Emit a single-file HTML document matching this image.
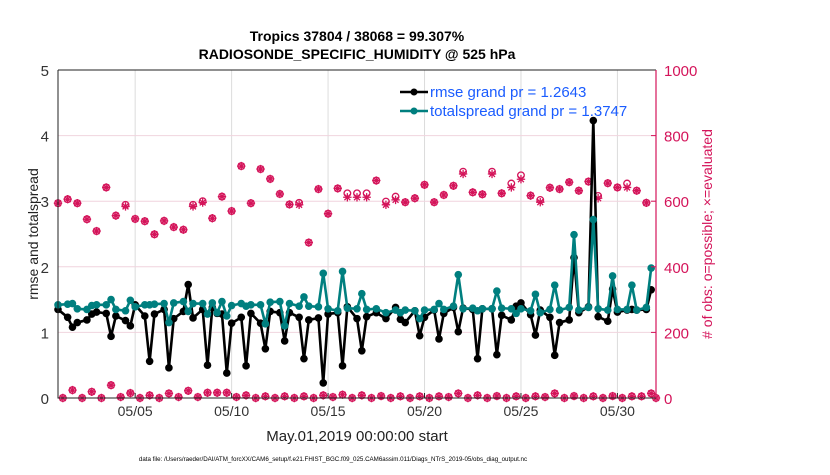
<!DOCTYPE html>
<html><head><meta charset="utf-8"><style>
body{margin:0;background:#fff;width:830px;height:470px;overflow:hidden;font-family:"Liberation Sans",sans-serif}
</style></head><body>
<svg id="chart" width="830" height="470" xmlns="http://www.w3.org/2000/svg" font-family="Liberation Sans, sans-serif">
<text x="357" y="41" text-anchor="middle" font-size="14" font-weight="bold">Tropics 37804 / 38068 = 99.307%</text>
<text x="357" y="59" text-anchor="middle" font-size="14" font-weight="bold">RADIOSONDE_SPECIFIC_HUMIDITY @ 525 hPa</text>
<g id="grid"></g>
<g id="marks"></g>
<g id="axes"></g>
<text transform="translate(38,234) rotate(-90)" text-anchor="middle" font-size="14" fill="#222">rmse and totalspread</text>
<text transform="translate(712,234) rotate(-90)" text-anchor="middle" font-size="14" fill="#d4145a"># of obs: o=possible; ×=evaluated</text>
<text x="357" y="441" text-anchor="middle" font-size="15" fill="#222">May.01,2019 00:00:00 start</text>
<text x="333" y="461" text-anchor="middle" font-size="6.2" fill="#000">data file: /Users/raeder/DAI/ATM_forcXX/CAM6_setup/f.e21.FHIST_BGC.f09_025.CAM6assim.011/Diags_NTrS_2019-05/obs_diag_output.nc</text>
<g>
<line x1="400" y1="92" x2="428" y2="92" stroke="#000" stroke-width="2.5"/>
<circle cx="414" cy="92" r="3.5" fill="#000"/>
<text x="430" y="97" font-size="15" fill="#1a5cff">rmse grand pr = 1.2643</text>
<line x1="400" y1="111" x2="428" y2="111" stroke="#007f7f" stroke-width="2.5"/>
<circle cx="414" cy="111" r="3.5" fill="#007f7f"/>
<text x="430" y="116" font-size="15" fill="#1a5cff">totalspread grand pr = 1.3747</text>
</g>
</svg>
<script>
const lineTimes=[0,0.5,0.75,1,1.5,1.75,2,2.5,2.75,3,3.5,3.75,4,4.5,4.75,5,5.5,5.75,6,6.5,6.75,7,7.5,7.75,8,8.25,8.5,8.75,9,9.5,9.75,10,10.5,10.75,11,11.5,11.75,12,12.5,12.75,13,13.5,13.75,14,14.5,14.75,15,15.5,15.75,16,16.5,17,17.5,17.75,18,18.5,18.75,19,19.5,19.75,20,20.5,20.75,21,21.5,21.75,22,22.5,22.75,23,23.5,23.75,24,24.5,24.75,25,25.5,25.75,26,26.5,26.75,27,27.5,27.75,28,28.5,28.75,29,29.5,29.75,30,30.5,30.75];
const rmse=[1.35,1.23,1.08,1.15,1.19,1.28,1.31,1.29,0.94,1.25,1.18,1.10,1.42,1.25,0.56,1.28,1.35,0.46,1.21,1.32,1.73,1.22,1.35,0.50,1.38,1.29,1.28,0.38,1.14,1.23,0.49,1.29,1.14,0.75,1.32,1.30,0.87,1.30,1.23,0.60,1.19,1.22,0.23,1.28,1.30,0.49,1.39,1.21,0.72,1.24,1.30,1.21,1.38,1.20,1.15,1.33,0.95,1.23,1.34,0.90,1.29,1.38,1.01,1.37,1.35,0.60,1.36,1.36,0.66,1.26,1.19,1.40,1.45,1.27,0.96,1.34,1.23,0.65,1.15,1.19,2.14,1.30,1.39,4.23,1.24,1.17,1.66,1.31,1.34,1.35,1.34,1.35,1.65];
const spread=[1.42,1.43,1.44,1.36,1.35,1.41,1.42,1.42,1.50,1.35,1.33,1.49,1.39,1.42,1.42,1.43,1.44,1.15,1.45,1.47,1.32,1.44,1.44,1.28,1.45,1.30,1.47,1.25,1.41,1.44,1.40,1.42,1.42,1.13,1.46,1.47,1.10,1.44,1.40,1.54,1.40,1.39,1.90,1.36,1.33,1.93,1.37,1.36,1.59,1.35,1.36,1.30,1.34,1.30,1.34,1.33,1.21,1.34,1.35,1.44,1.35,1.40,1.88,1.36,1.37,1.33,1.36,1.36,1.63,1.37,1.36,1.29,1.36,1.33,1.58,1.30,1.35,1.72,1.34,1.38,2.49,1.34,1.38,2.72,1.36,1.34,1.86,1.35,1.35,1.72,1.34,1.38,1.98];
const topTimes=[0,0.5,1,1.5,2,2.5,3,3.5,4,4.5,5,5.5,6,6.5,7,7.5,8,8.5,9,9.5,10,10.5,11,11.5,12,12.5,13,13.5,14,14.5,15,15.5,16,16.5,17,17.5,18,18.5,19,19.5,20,20.5,21,21.5,22,22.5,23,23.5,24,24.5,25,25.5,26,26.5,27,27.5,28,28.5,29,29.5,30,30.5];
const possibleTop=[594,606,594,545,509,642,556,589,546,539,499,540,521,513,589,600,548,614,570,707,594,698,668,622,590,595,474,637,562,639,624,624,624,663,599,614,597,609,650,597,619,647,690,627,621,690,624,654,679,617,604,641,637,658,632,660,616,655,642,654,632,595];
const evaluatedTop=[594,606,594,545,509,642,556,584,546,539,499,540,521,513,584,596,548,614,570,707,594,698,668,622,590,589,474,637,562,639,612,612,612,663,589,604,597,609,650,597,619,647,683,627,621,683,624,642,667,617,597,641,637,658,632,660,609,655,642,642,632,595];
const bottomTimes=[0.25,0.75,1.25,1.75,2.25,2.75,3.25,3.75,4.25,4.75,5.25,5.75,6.25,6.75,7.25,7.75,8.25,8.75,9.25,9.75,10.25,10.75,11.25,11.75,12.25,12.75,13.25,13.75,14.25,14.75,15.25,15.75,16.25,16.75,17.25,17.75,18.25,18.75,19.25,19.75,20.25,20.75,21.25,21.75,22.25,22.75,23.25,23.75,24.25,24.75,25.25,25.75,26.25,26.75,27.25,27.75,28.25,28.75,29.25,29.75,30.25,30.75,31];
const bottomCounts=[0,24,0,19,0,39,3,15,0,8,0,14,3,22,3,16,16,16,3,8,0,5,0,5,0,5,0,8,3,10,0,8,0,6,0,5,0,5,0,5,3,14,0,8,0,6,0,5,0,5,3,14,0,6,0,5,0,6,0,5,5,14,0];
const leftTicks=[0,1,2,3,4,5];
const rightTicks=[0,200,400,600,800,1000];
const xTickDays=[4,9,14,19,24,29];
const xTickLabels=["05/05","05/10","05/15","05/20","05/25","05/30"];

const X0=58,X1=656,Y0=398,Y1=70,NS="http://www.w3.org/2000/svg";
const xs=d=>X0+d/31*(X1-X0);
const yl=v=>Y0-v/5*(Y0-Y1);
const yr=c=>Y0-c/1000*(Y0-Y1);
function mk(tag,attrs,parent){const e=document.createElementNS(NS,tag);for(const k in attrs)e.setAttribute(k,attrs[k]);parent.appendChild(e);return e;}
const grid=document.getElementById('grid'),marks=document.getElementById('marks'),axes=document.getElementById('axes');
xTickDays.forEach((d,i)=>{
  const g=mk('line',{x1:xs(d),x2:xs(d),y1:Y1,y2:Y0,stroke:'#dcdcdc','stroke-width':1},grid);
  
  
  const t=mk('line',{x1:xs(d),x2:xs(d),y1:Y0,y2:Y0-5,stroke:'#222'},axes);
  
  
  const l=mk('text',{x:xs(d),y:Y0+18,'text-anchor':'middle','font-size':14,fill:'#333'},axes);
  l.textContent=xTickLabels[i];
  
  
});
leftTicks.forEach(v=>{
  if(v>0&&v<5){const g=mk('line',{x1:X0,x2:X1,y1:yl(v),y2:yl(v),stroke:'#f0d4de','stroke-width':1},grid);
  
  }
  const l=mk('text',{x:X0-9,y:yl(v)+6,'text-anchor':'end','font-size':15,fill:'#333'},axes);
  l.textContent=v;
  
  
});
rightTicks.forEach(c=>{
  const t=mk('line',{x1:X1,x2:X1-5,y1:yr(c),y2:yr(c),stroke:'#d4145a'},axes);
  
  
  const l=mk('text',{x:X1+8,y:yr(c)+6,'font-size':15,fill:'#d4145a'},axes);
  l.textContent=c;
  
  
});
const frame=mk('path',{d:`M${X0},${Y1}L${X0},${Y0}L${X1},${Y0}M${X0},${Y1}L${X1},${Y1}`,stroke:'#222',fill:'none','stroke-width':1},axes);


const ra=mk('line',{x1:X1,x2:X1,y1:Y1,y2:Y0,stroke:'#d4145a','stroke-width':1.2},axes);



function star(cx,cy,r,col,name){
  const p=mk('path',{d:`M${cx-r},${cy}L${cx+r},${cy}M${cx},${cy-r}L${cx},${cy+r}M${cx-r*.7},${cy-r*.7}L${cx+r*.7},${cy+r*.7}M${cx-r*.7},${cy+r*.7}L${cx+r*.7},${cy-r*.7}`,stroke:col,'stroke-width':1.3},marks);
  
  
}
topTimes.forEach((d,i)=>{
  const c=mk('circle',{cx:xs(d),cy:yr(possibleTop[i]),r:3.3,fill:'none',stroke:'#d4145a','stroke-width':1.3},marks);
  
  
  star(xs(d),yr(evaluatedTop[i]),4.2,'#d4145a','evaluated-obs-marker');
});
bottomTimes.forEach((d,i)=>{
  const c=mk('circle',{cx:xs(d),cy:yr(bottomCounts[i]),r:3.3,fill:'none',stroke:'#d4145a','stroke-width':1.3},marks);
  
  
  star(xs(d),yr(bottomCounts[i]),4.2,'#d4145a','evaluated-obs-marker-low');
});
function series(vals,col,name){
  const pl=mk('polyline',{points:lineTimes.map((d,i)=>xs(d)+','+yl(vals[i])).join(' '),fill:'none',stroke:col,'stroke-width':2.6,'stroke-linejoin':'round'},marks);
  
  
  lineTimes.forEach((d,i)=>{
    const c=mk('circle',{cx:xs(d),cy:yl(vals[i]),r:3.8,fill:col},marks);
    
    
  });
}
series(rmse,'#000','rmse');
series(spread,'#007f7f','totalspread');
</script>
</body></html>
